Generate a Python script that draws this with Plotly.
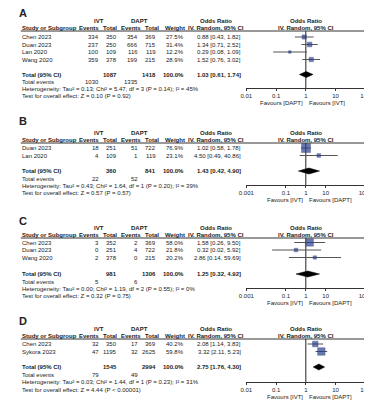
import plotly.graph_objects as go
import math

# ---------------- data ----------------
A_studies = ["Chen 2023", "Duan 2023", "Lan 2020", "Wang 2020"]
A_ivt_events = [334, 237, 100, 359]
A_ivt_total = [350, 250, 109, 378]
A_dapt_events = [354, 666, 116, 199]
A_dapt_total = [369, 715, 119, 215]
A_weight = [27.5, 31.4, 12.2, 28.9]
A_or = [0.88, 1.34, 0.29, 1.52]
A_lo = [0.43, 0.71, 0.08, 0.76]
A_hi = [1.82, 2.52, 1.09, 3.02]
A_total = [1087, 1418, 1.03, 0.61, 1.74]
A_events = [1030, 1335]
A_het = "Heterogeneity: Tau² = 0.13; Chi² = 5.47, df = 3 (P = 0.14); I² = 45%"
A_test = "Test for overall effect: Z = 0.10 (P = 0.92)"
A_ticks = [0.01, 0.1, 1, 10, 100]
A_ticklabels = ["0.01", "0.1", "1", "10", "100"]
A_favours = ["Favours [DAPT]", "Favours [IVT]"]

B_studies = ["Duan 2023", "Lan 2020"]
B_ivt_events = [18, 4]
B_ivt_total = [251, 109]
B_dapt_events = [51, 1]
B_dapt_total = [722, 119]
B_weight = [76.9, 23.1]
B_or = [1.02, 4.50]
B_lo = [0.58, 0.49]
B_hi = [1.78, 40.86]
B_total = [360, 841, 1.43, 0.42, 4.90]
B_events = [22, 52]
B_het = "Heterogeneity: Tau² = 0.43; Chi² = 1.64, df = 1 (P = 0.20); I² = 39%"
B_test = "Test for overall effect: Z = 0.57 (P = 0.57)"
B_ticks = [0.001, 0.1, 1, 10, 1000]
B_ticklabels = ["0.001", "0.1", "1", "10", "1000"]
B_favours = ["Favours [IVT]", "Favours [DAPT]"]

C_studies = ["Chen 2023", "Duan 2023", "Wang 2020"]
C_ivt_events = [3, 0, 2]
C_ivt_total = [352, 251, 378]
C_dapt_events = [2, 4, 0]
C_dapt_total = [369, 722, 215]
C_weight = [58.0, 21.8, 20.2]
C_or = [1.58, 0.32, 2.86]
C_lo = [0.26, 0.02, 0.14]
C_hi = [9.50, 5.92, 59.69]
C_total = [981, 1306, 1.25, 0.32, 4.92]
C_events = [5, 6]
C_het = "Heterogeneity: Tau² = 0.00; Chi² = 1.19, df = 2 (P = 0.55); I² = 0%"
C_test = "Test for overall effect: Z = 0.32 (P = 0.75)"
C_ticks = [0.001, 0.1, 1, 10, 1000]
C_ticklabels = ["0.001", "0.1", "1", "10", "1000"]
C_favours = ["Favours [IVT]", "Favours [DAPT]"]

D_studies = ["Chen 2023", "Sykora 2023"]
D_ivt_events = [32, 47]
D_ivt_total = [350, 1195]
D_dapt_events = [17, 32]
D_dapt_total = [369, 2625]
D_weight = [40.2, 59.8]
D_or = [2.08, 3.32]
D_lo = [1.14, 2.11]
D_hi = [3.83, 5.23]
D_total = [1545, 2994, 2.75, 1.76, 4.30]
D_events = [79, 49]
D_het = "Heterogeneity: Tau² = 0.03; Chi² = 1.44, df = 1 (P = 0.23); I² = 31%"
D_test = "Test for overall effect: Z = 4.44 (P < 0.00001)"
D_ticks = [0.01, 0.1, 1, 10, 100]
D_ticklabels = ["0.01", "0.1", "1", "10", "100"]
D_favours = ["Favours [IVT]", "Favours [DAPT]"]

# ---------------- layout constants ----------------
W, H = 372, 400
FONT = "Liberation Sans, Arial, sans-serif"
TXT = "#222222"
SQ = "#2b3f8f"
FS = 6

def px(x):
    return x / W

def py(y):
    return 1 - y / H

annotations = []
shapes = []

def txt(x, y, s, anchor="left", bold=False, size=FS, **kw):
    annotations.append(dict(
        x=px(x), y=py(y), xref="paper", yref="paper",
        text=f"<b>{s}</b>" if bold else s, showarrow=False,
        xanchor=anchor, yanchor="middle", borderpad=0,
        font=dict(size=size, family=FONT, color=TXT), **kw))

# column positions (pixels)
X_STUDY = 5
X_IVT_EV = 88
X_IVT_TOT = 106
X_DAPT_EV = 128
X_DAPT_TOT = 147
X_WEIGHT = 176
X_OR_R = 235
X_OR_C = 208
X_FP_L, X_FP_R = 240, 364
X_FP_C = 302

panels = [
    dict(label="A", studies=A_studies, ie=A_ivt_events, it=A_ivt_total, de=A_dapt_events,
         dt=A_dapt_total, w=A_weight, est=A_or, lo=A_lo, hi=A_hi, tot=A_total, ev=A_events,
         het=A_het, test=A_test, ticks=A_ticks, tl=A_ticklabels, fav=A_favours,
         y_label=5, y_h1=13, y_h2=20, y_line=23, rows=[29, 36.5, 44, 51.5],
         y_tot=66.5, y_ev=74, y_het=81, y_test=88, y_axis=80),
    dict(label="B", studies=B_studies, ie=B_ivt_events, it=B_ivt_total, de=B_dapt_events,
         dt=B_dapt_total, w=B_weight, est=B_or, lo=B_lo, hi=B_hi, tot=B_total, ev=B_events,
         het=B_het, test=B_test, ticks=B_ticks, tl=B_ticklabels, fav=B_favours,
         y_label=113, y_h1=125, y_h2=132, y_line=135, rows=[140, 147.5],
         y_tot=163, y_ev=170.5, y_het=177.5, y_test=185, y_axis=177),
    dict(label="C", studies=C_studies, ie=C_ivt_events, it=C_ivt_total, de=C_dapt_events,
         dt=C_dapt_total, w=C_weight, est=C_or, lo=C_lo, hi=C_hi, tot=C_total, ev=C_events,
         het=C_het, test=C_test, ticks=C_ticks, tl=C_ticklabels, fav=C_favours,
         y_label=213, y_h1=220, y_h2=227, y_line=230, rows=[234.5, 242, 249.5],
         y_tot=266, y_ev=273.5, y_het=281, y_test=288, y_axis=280),
    dict(label="D", studies=D_studies, ie=D_ivt_events, it=D_ivt_total, de=D_dapt_events,
         dt=D_dapt_total, w=D_weight, est=D_or, lo=D_lo, hi=D_hi, tot=D_total, ev=D_events,
         het=D_het, test=D_test, ticks=D_ticks, tl=D_ticklabels, fav=D_favours,
         y_label=313, y_h1=321, y_h2=328, y_line=331, rows=[336, 343.5],
         y_tot=359, y_ev=366.5, y_het=374, y_test=381.5, y_axis=374),
]

fig = go.Figure()
layout_axes = {}

for k, p in enumerate(panels, start=1):
    xa = "x" if k == 1 else f"x{k}"
    ya = "y" if k == 1 else f"y{k}"
    # panel letter
    txt(2, p["y_label"], p["label"], bold=True, size=11)
    # headers
    txt(86, p["y_h1"], "IVT", anchor="center", bold=True)
    txt(129, p["y_h1"], "DAPT", anchor="center", bold=True)
    txt(X_OR_C, p["y_h1"], "Odds Ratio", anchor="center", bold=True)
    txt(X_FP_C, p["y_h1"], "Odds Ratio", anchor="center", bold=True)
    txt(X_STUDY, p["y_h2"], "Study or Subgroup", bold=True)
    txt(X_IVT_EV, p["y_h2"], "Events", anchor="right", bold=True)
    txt(X_IVT_TOT, p["y_h2"], "Total", anchor="right", bold=True)
    txt(X_DAPT_EV + 3, p["y_h2"], "Events", anchor="right", bold=True)
    txt(X_DAPT_TOT + 3, p["y_h2"], "Total", anchor="right", bold=True)
    txt(X_WEIGHT + 1, p["y_h2"], "Weight", anchor="right", bold=True)
    txt(X_OR_C, p["y_h2"], "IV. Random, 95% CI", anchor="center", bold=True)
    txt(X_FP_C, p["y_h2"], "IV. Random, 95% CI", anchor="center", bold=True)
    shapes.append(dict(type="line", xref="paper", yref="paper",
                       x0=px(5), x1=px(370), y0=py(p["y_line"]), y1=py(p["y_line"]),
                       line=dict(color="#333333", width=1)))
    # study rows
    for i, s in enumerate(p["studies"]):
        y = p["rows"][i]
        txt(X_STUDY, y, s)
        txt(X_IVT_EV, y, str(p["ie"][i]), anchor="right")
        txt(X_IVT_TOT, y, str(p["it"][i]), anchor="right")
        txt(X_DAPT_EV, y, str(p["de"][i]), anchor="right")
        txt(X_DAPT_TOT, y, str(p["dt"][i]), anchor="right")
        txt(X_WEIGHT, y, f"{p['w'][i]:.1f}%", anchor="right")
        txt(X_OR_R, y, f"{p['est'][i]:.2f} [{p['lo'][i]:.2f}, {p['hi'][i]:.2f}]", anchor="right")
    # totals
    t = p["tot"]
    txt(X_STUDY, p["y_tot"], "Total (95% CI)", bold=True)
    txt(X_IVT_TOT, p["y_tot"], str(t[0]), anchor="right", bold=True)
    txt(X_DAPT_TOT, p["y_tot"], str(t[1]), anchor="right", bold=True)
    txt(X_WEIGHT, p["y_tot"], "100.0%", anchor="right", bold=True)
    txt(X_OR_R, p["y_tot"], f"{t[2]:.2f} [{t[3]:.2f}, {t[4]:.2f}]", anchor="right", bold=True)
    txt(X_STUDY, p["y_ev"], "Total events")
    txt(X_IVT_EV, p["y_ev"], str(p["ev"][0]), anchor="right")
    txt(X_DAPT_EV, p["y_ev"], str(p["ev"][1]), anchor="right")
    txt(X_STUDY, p["y_het"], p["het"])
    txt(X_STUDY, p["y_test"], p["test"])

    # forest plot axes
    lr = [math.log10(p["ticks"][0]), math.log10(p["ticks"][-1])]
    top = p["y_line"]
    layout_axes[("xaxis" if k == 1 else f"xaxis{k}")] = dict(
        type="log", range=lr, domain=[px(X_FP_L), px(X_FP_R)], anchor=ya,
        showline=True, linecolor="#333333", linewidth=1, ticks="outside",
        ticklen=2, tickwidth=1, tickcolor="#333333", tickvals=p["ticks"],
        ticktext=p["tl"], showgrid=False, zeroline=False, ticklabelstandoff=0,
        tickfont=dict(size=FS, family=FONT, color=TXT), fixedrange=True)
    layout_axes[("yaxis" if k == 1 else f"yaxis{k}")] = dict(
        domain=[py(p["y_axis"]), py(top)], range=[p["y_axis"], top],
        visible=False, showgrid=False, zeroline=False, fixedrange=True)

    # line of no effect
    fig.add_trace(go.Scatter(x=[1, 1], y=[top, p["y_axis"]], mode="lines",
                             line=dict(color="#222222", width=1), xaxis=xa, yaxis=ya,
                             hoverinfo="skip"))
    # CIs
    cx, cy = [], []
    for i in range(len(p["studies"])):
        cx += [p["lo"][i], p["hi"][i], None]
        cy += [p["rows"][i], p["rows"][i], None]
    fig.add_trace(go.Scatter(x=cx, y=cy, mode="lines", line=dict(color="#555555", width=1),
                             xaxis=xa, yaxis=ya, hoverinfo="skip"))
    sizes = [max(2.5, 0.35 * wv ** 0.75) for wv in p["w"]]
    fig.add_trace(go.Scatter(x=p["est"], y=p["rows"], mode="markers",
                             marker=dict(symbol="square", size=sizes, color=SQ,
                                         line=dict(color="#1c2c6c", width=0.5)),
                             xaxis=xa, yaxis=ya))
    yt = p["y_tot"]
    fig.add_trace(go.Scatter(x=[t[3], t[2], t[4], t[2], t[3]],
                             y=[yt, yt - 3, yt, yt + 3, yt], mode="lines", fill="toself",
                             fillcolor="#000000", line=dict(color="#000000", width=0.5),
                             xaxis=xa, yaxis=ya, hoverinfo="skip"))
    # favours labels
    for j, anc, sh in ((0, "right", -2), (1, "left", 2)):
        annotations.append(dict(x=0, xref=xa, y=py(p["y_axis"] + 15), yref="paper",
                                text=p["fav"][j], showarrow=False, xanchor=anc,
                                yanchor="middle", xshift=sh, borderpad=0,
                                font=dict(size=FS, family=FONT, color=TXT)))

fig.update_layout(width=W, height=H, margin=dict(l=0, r=0, t=0, b=0),
                  paper_bgcolor="white", plot_bgcolor="white", showlegend=False,
                  annotations=annotations, shapes=shapes, **layout_axes)
fig.write_html("out.html")
